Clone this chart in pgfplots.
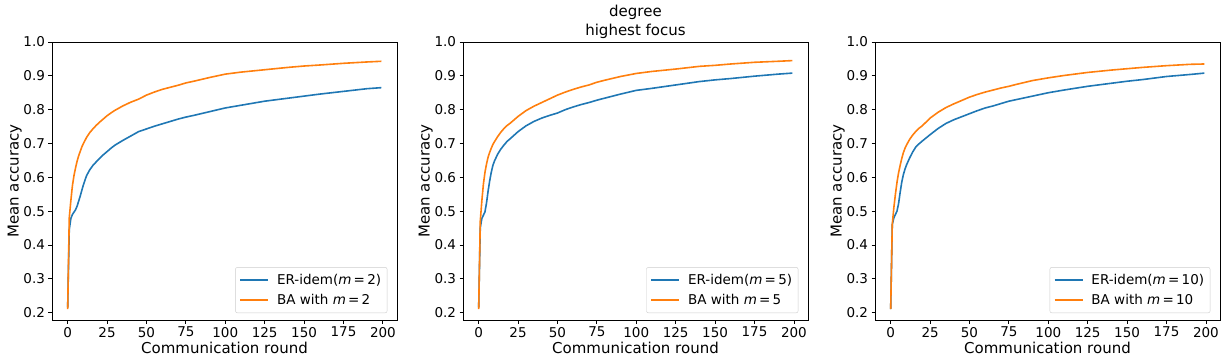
\documentclass[border=0pt]{standalone}
\usepackage{pgfplots}
\usepackage{pgfplotstable}
\usepackage{fontspec}
\setmainfont{DejaVu Sans}
\pgfplotsset{compat=1.18}

\definecolor{mplblue}{HTML}{1F77B4}
\definecolor{mplorange}{HTML}{FF7F0E}

% x  er  ba
\pgfplotstableread{
x er ba
0 0.215 0.21
1 0.445 0.48
2 0.478 0.53
3 0.490 0.575
4 0.497 0.605
5 0.504 0.628
6 0.515 0.648
7 0.530 0.664
8 0.545 0.677
9 0.562 0.690
10 0.578 0.700
11 0.592 0.709
12 0.605 0.718
14 0.622 0.732
16 0.635 0.743
18 0.645 0.753
20 0.655 0.762
22 0.664 0.770
25 0.676 0.782
28 0.688 0.792
30 0.695 0.798
35 0.709 0.811
40 0.722 0.822
45 0.735 0.831
50 0.743 0.843
55 0.751 0.852
60 0.758 0.860
65 0.765 0.866
70 0.772 0.872
75 0.778 0.879
80 0.783 0.884
90 0.794 0.895
100 0.805 0.905
110 0.813 0.911
125 0.825 0.918
140 0.834 0.925
150 0.840 0.929
160 0.846 0.932
175 0.854 0.937
190 0.862 0.941
199 0.865 0.943
}\mtwo

\pgfplotstableread{
x er ba
0 0.215 0.21
1 0.450 0.47
2 0.478 0.53
3 0.488 0.58
4 0.498 0.615
5 0.525 0.640
6 0.560 0.660
7 0.590 0.674
8 0.615 0.686
9 0.635 0.697
10 0.648 0.705
12 0.668 0.720
14 0.683 0.733
16 0.695 0.744
18 0.706 0.753
20 0.714 0.760
25 0.735 0.780
30 0.752 0.797
35 0.765 0.810
40 0.775 0.821
45 0.783 0.832
50 0.790 0.843
55 0.800 0.852
60 0.808 0.860
65 0.815 0.867
70 0.821 0.873
75 0.828 0.881
80 0.834 0.887
90 0.846 0.898
100 0.857 0.907
110 0.863 0.913
125 0.873 0.920
140 0.883 0.928
150 0.888 0.931
160 0.892 0.935
175 0.899 0.940
190 0.905 0.943
199 0.908 0.945
}\mfive

\pgfplotstableread{
x er ba
0 0.210 0.21
1 0.460 0.46
2 0.480 0.51
3 0.490 0.55
4 0.500 0.585
5 0.522 0.613
6 0.555 0.635
7 0.585 0.655
8 0.607 0.672
9 0.623 0.685
10 0.636 0.695
12 0.657 0.712
14 0.675 0.725
16 0.690 0.736
18 0.699 0.745
20 0.707 0.752
25 0.726 0.775
30 0.744 0.792
35 0.759 0.806
40 0.770 0.817
45 0.779 0.827
50 0.788 0.837
55 0.797 0.845
60 0.805 0.852
65 0.811 0.858
70 0.818 0.864
75 0.825 0.869
80 0.830 0.875
90 0.840 0.886
100 0.850 0.894
110 0.858 0.901
125 0.869 0.910
140 0.878 0.917
150 0.884 0.921
160 0.889 0.925
175 0.898 0.930
190 0.904 0.934
199 0.908 0.935
}\mten

\pgfplotsset{
  legend image code/.code={%
    \draw[#1] (0pt,0pt) -- (28pt,0pt);
    \path (34pt,0pt);},
  panel/.style={
    scale only axis,
    width=345pt, height=278pt,
    anchor=south west,
    xmin=-9.95, xmax=208.95,
    ymin=0.178, ymax=1.0,
    xtick={0,25,...,200},
    ytick={0.2,0.3,...,1.0},
    yticklabel style={/pgf/number format/.cd,fixed,fixed zerofill,precision=1},
    /pgf/number format/assume math mode=true,
    tick label style={font=\fontsize{13.5}{16}\selectfont},
    xlabel={Communication round},
    ylabel={Mean accuracy},
    every axis y label/.style={at={(axis description cs:-0.108,0.5)}, rotate=90,
      anchor=center, font=\fontsize{15}{18}\selectfont},
    every axis x label/.style={at={(axis description cs:0.5,-0.1)},
      anchor=center, font=\fontsize{15}{18}\selectfont},
    xtick pos=bottom, ytick pos=left,
    tick align=outside,
    major tick length=3.5pt,
    axis line style={line width=0.8pt},
    every tick/.style={black, line width=0.8pt},
    legend style={at={(0.972,0.025)}, anchor=south east,
      draw=black!20, rounded corners=2pt,
      font=\fontsize{13.5}{16}\selectfont,
      row sep=4pt, inner xsep=4pt, inner ysep=5pt},
    legend cell align=left,
  },
  erline/.style={color=mplblue, line width=1.6pt},
  baline/.style={color=mplorange, line width=1.6pt},
}

\begin{document}
\begin{tikzpicture}
\useasboundingbox (0,0) rectangle (1226pt,362pt);

\begin{axis}[panel, at={(52pt,42pt)}]
\addplot[erline] table[x=x, y=er] {\mtwo};
\addlegendentry{ER-idem(\textit{m}\,=\,2)}
\addplot[baline] table[x=x, y=ba] {\mtwo};
\addlegendentry{BA with \textit{m}\,=\,2}
\end{axis}

\begin{axis}[panel, at={(463pt,42pt)},
  title={degree\\[2pt]highest focus},
  title style={align=center, font=\fontsize{15}{17}\selectfont, at={(0.5,1)}, anchor=south, yshift=-6pt}]
\addplot[erline] table[x=x, y=er] {\mfive};
\addlegendentry{ER-idem(\textit{m}\,=\,5)}
\addplot[baline] table[x=x, y=ba] {\mfive};
\addlegendentry{BA with \textit{m}\,=\,5}
\end{axis}

\begin{axis}[panel, at={(875pt,42pt)}]
\addplot[erline] table[x=x, y=er] {\mten};
\addlegendentry{ER-idem(\textit{m}\,=\,10)}
\addplot[baline] table[x=x, y=ba] {\mten};
\addlegendentry{BA with \textit{m}\,=\,10}
\end{axis}
\end{tikzpicture}
\end{document}
